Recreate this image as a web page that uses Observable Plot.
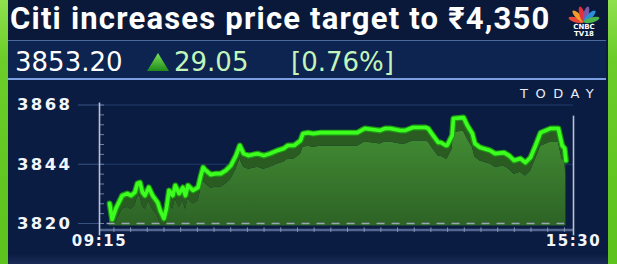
<!DOCTYPE html>
<html>
<head>
<meta charset="utf-8">
<script src="https://cdn.jsdelivr.net/npm/d3@7"></script>
<script src="https://cdn.jsdelivr.net/npm/@observablehq/plot@0.6"></script>
<style>
  html, body { margin: 0; padding: 0; }
  body { width: 617px; height: 264px; overflow: hidden; background: #0b1c42; position: relative; font-family: "DejaVu Sans", sans-serif; }
  .strip { position: absolute; top: 0; width: 8px; height: 264px; background: linear-gradient(#8fe04e 0%, #6ccd2a 22%, #5cc21c 100%); }
  #top { position: absolute; left: 0; top: 0; width: 617px; height: 40px; background: #0a1939; }
  #title { position: absolute; left: 10px; top: 0px; font-family: Roboto, sans-serif; font-weight: 700; font-size: 31px; color: #fff; white-space: nowrap; letter-spacing: 1.2px; }
  #band { position: absolute; left: 7px; top: 40px; width: 598px; height: 37px; background: #0d2350; border-top: 1px solid #4a6aa0; border-bottom: 2px solid #7b9fe0; border-left: 1px solid #4a6aa0; }
  .q { position: absolute; top: 47px; font-size: 26px; white-space: nowrap; font-family: "DejaVu Sans", sans-serif; }
  #today { position: absolute; left: 520px; top: 86px; font-size: 13px; color: #e8eef8; letter-spacing: 7.5px; font-family: "DejaVu Sans", sans-serif; }
  #chart { position: absolute; left: 0; top: 0; }
  #logo { position: absolute; left: 562px; top: 3px; }
  #bottom { position: absolute; left: 8px; top: 254px; width: 600px; height: 10px; background: linear-gradient(#0b1c42, #1a2c55); }
  g[aria-label="y-axis tick label"] text { letter-spacing: 2.4px; }
  g[aria-label="x-axis tick label"] text { letter-spacing: 1.6px; }
</style>
</head>
<body>
<div id="top"></div>
<div id="bottom"></div>
<div id="chart"></div>
<div id="title">Citi increases price target to ₹4,350</div>
<div id="band"></div>
<div class="q" style="left:15px;color:#ffffff;">3853.20</div>
<svg style="position:absolute;left:147px;top:53px" width="22" height="18">
  <defs><linearGradient id="tri" x1="0" y1="0" x2="0" y2="1"><stop offset="0" stop-color="#7be35a"/><stop offset="1" stop-color="#1f8a1a"/></linearGradient></defs>
  <polygon points="11,0 22,18 0,18" fill="url(#tri)"/>
</svg>
<div class="q" style="left:174px;color:#c3f5bb;">29.05</div>
<div class="q" style="left:291px;color:#c3f5bb;">[0.76%]</div>
<div id="today">TODAY</div>
<svg id="logo" width="44" height="34" viewBox="0 0 44 34">
  <g transform="translate(22,19)">
    <ellipse cx="0" cy="-8" rx="2.6" ry="8" fill="#e8473a" transform="rotate(-75)"/>
    <ellipse cx="0" cy="-8" rx="2.6" ry="8" fill="#f39a2a" transform="rotate(-45)"/>
    <ellipse cx="0" cy="-8" rx="2.6" ry="8" fill="#e2313b" transform="rotate(-15)"/>
    <ellipse cx="0" cy="-8" rx="2.6" ry="8" fill="#7a5aa8" transform="rotate(15)"/>
    <ellipse cx="0" cy="-8" rx="2.6" ry="8" fill="#2a8fd6" transform="rotate(45)"/>
    <ellipse cx="0" cy="-8" rx="2.6" ry="8" fill="#4bb44a" transform="rotate(75)"/>
  </g>
  <text x="22" y="26" text-anchor="middle" font-family="DejaVu Sans" font-weight="bold" font-size="7" fill="#fff">CNBC</text>
  <text x="22" y="33" text-anchor="middle" font-family="DejaVu Sans" font-weight="bold" font-size="7" fill="#fff">TV18</text>
</svg>
<div class="strip" style="left:0"></div>
<div class="strip" style="left:608px;width:9px"></div>
<script>
// Intraday price
const times = ["09:23","09:25","09:28","09:33","09:37","09:40","09:43","09:45","09:47","09:49","09:51","09:54","09:57",
  "10:01","10:03","10:06","10:08","10:10","10:13","10:15","10:18","10:21","10:23","10:25","10:29","10:33","10:35","10:37","10:39","10:43","10:47","10:51","10:55","10:59",
  "11:03","11:06","11:09","11:13","11:20","11:25","11:30","11:36","11:41","11:44","11:49","11:54","11:56",
  "12:00","12:04","12:10","12:15","12:23","12:31","12:39","12:45","12:51","12:57",
  "13:01","13:05","13:09","13:13","13:17","13:23","13:33","13:35","13:39","13:43","13:45","13:49","13:50","13:54","13:55",
  "14:03","14:06","14:10","14:12","14:16","14:24","14:28","14:35","14:39","14:43","14:48","14:52","14:56",
  "15:00","15:04","15:12","15:18","15:21","15:23","15:24"];
const prices = [3828.1,3821.6,3826.1,3831.3,3832.1,3831.3,3832.6,3836.2,3836.6,3832.6,3831.3,3834.6,3831.3,
  3828.5,3825.3,3822.0,3826.1,3833.4,3831.3,3835.4,3832.1,3834.6,3831.3,3835.4,3833.4,3834.6,3839.0,3842.7,3841.5,3839.8,3840.2,3840.2,3841.5,3843.5,
  3847.5,3851.6,3848.3,3847.5,3848.3,3847.5,3848.3,3849.6,3850.4,3851.6,3851.6,3853.6,3856.4,
  3856.8,3856.4,3856.8,3856.8,3856.8,3856.8,3856.8,3858.5,3858.1,3857.7,
  3858.5,3858.5,3858.1,3857.7,3857.7,3858.9,3858.9,3858.5,3855.6,3852.8,3852.8,3851.6,3851.6,3855.6,3862.5,
  3862.9,3859.7,3856.4,3852.4,3850.8,3849.6,3848.3,3848.7,3847.5,3845.5,3846.3,3844.7,3846.7,
  3851.6,3856.8,3858.5,3858.5,3851.6,3850.4,3845.5];
const yTicks = [3820, 3844, 3868];
const xTickLabels = ["09:15", "15:30"];

const toMin = s => { const [h, m] = s.split(":").map(Number); return h * 60 + m - (9 * 60 + 15); };
const data = times.map((t, i) => ({t: toMin(t), v: prices[i]}));
const xTicks = xTickLabels.map(toMin);
const depth = 5.5;
const base = 3819;

const chart = Plot.plot({
  width: 617, height: 264,
  marginLeft: 99, marginRight: 44, marginTop: 104.5, marginBottom: 41,
  style: {background: "transparent", overflow: "visible"},
  x: {domain: [xTicks[0], xTicks[1]], label: null},
  y: {domain: [yTicks[0], yTicks[2]], label: null},
  marks: [
    Plot.ruleY(yTicks.slice(1), {stroke: "#233a68", strokeWidth: 1.2}),
    Plot.axisY({ticks: yTicks, label: null, tickSize: 21, tickPadding: 6, stroke: "#3a5282", fill: "#f2f5fa", fontSize: 16.5, fontWeight: "bold", tickFormat: d => String(d), fontFamily: "DejaVu Sans"}),
    Plot.ruleY(d3.range(yTicks[0], yTicks[2] + 1, 4), {x1: 0, x2: 4, stroke: "#6d7fa3", strokeWidth: 1}),
    Plot.areaY(data, {x: "t", y1: base, y2: d => Math.max(d.v - depth, base), fill: "url(#areaGrad)"}),
    Plot.areaY(data, {x: "t", y1: d => Math.max(d.v - depth, base), y2: "v", fill: "#2a5c21"}),
    Plot.ruleY([yTicks[0]], {x1: 6, x2: 368, stroke: "#9aa6b8", strokeWidth: 1.6, strokeDasharray: "8,7"}),
    Plot.ruleY([3817.4], {stroke: "#53668f", strokeWidth: 2.5}),
    Plot.ruleX(d3.range(11.4, 375, 13.2), {y1: 3818.2, y2: 3816.4, stroke: "#8797b8", strokeWidth: 1}),
    Plot.line(data, {x: "t", y: "v", stroke: "#1c9a12", strokeWidth: 6, strokeLinejoin: "round"}),
    Plot.line(data, {x: "t", y: "v", stroke: "#3dff1f", strokeWidth: 3.6, strokeLinejoin: "round"}),
    Plot.ruleX([xTicks[0]], {y1: 3868.8, y2: 3815, stroke: "#b8c3d6", strokeWidth: 1.6}),
    Plot.ruleX([xTicks[1]], {y1: 3863.5, y2: 3815, stroke: "#b8c3d6", strokeWidth: 1.6}),
    Plot.axisX({ticks: xTicks, label: null, tickSize: 0, tickPadding: 12, fill: "#f2f5fa", fontSize: 15, fontWeight: "bold", tickFormat: (d, i) => xTickLabels[i], fontFamily: "DejaVu Sans"})
  ]
});
d3.select(chart).insert("defs", ":first-child").html(
  '<linearGradient id="areaGrad" x1="0" y1="0" x2="0" y2="1"><stop offset="0" stop-color="#428c33"/><stop offset="1" stop-color="#2d6326"/></linearGradient>');
document.getElementById("chart").appendChild(chart);
</script>
</body>
</html>
